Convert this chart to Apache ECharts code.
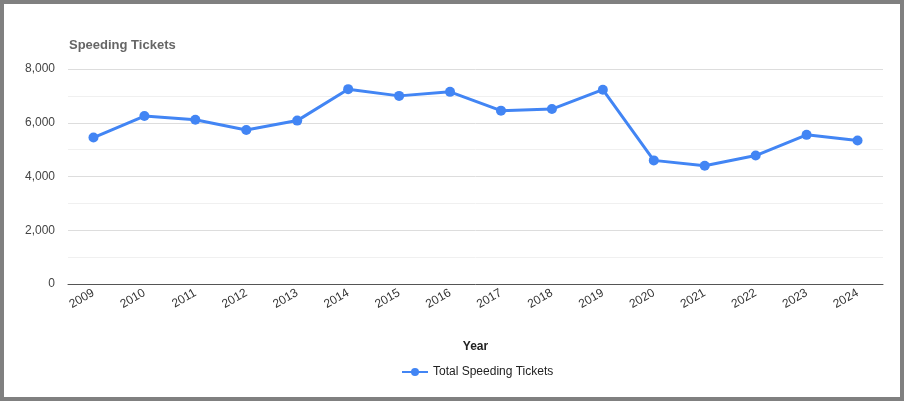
<!DOCTYPE html>
<html>
<head>
<meta charset="utf-8">
<script src="https://cdn.jsdelivr.net/npm/echarts@6/dist/echarts.min.js"></script>
<style>
  html, body { margin: 0; padding: 0; background: #fff; }
  #wrap { position: relative; width: 904px; height: 401px; }
  #chart { position: absolute; left: 0; top: 0; width: 904px; height: 401px; }
  #frame { position: absolute; left: 0; top: 0; width: 904px; height: 401px;
           box-sizing: border-box; border: 4px solid #808080; pointer-events: none; }
</style>
</head>
<body>
<div id="wrap">
  <div id="chart"></div>
  <div id="frame"></div>
</div>
<script>
// 年份与罚单数量
var years = ['2009', '2010', '2011', '2012', '2013', '2014', '2015', '2016',
             '2017', '2018', '2019', '2020', '2021', '2022', '2023', '2024'];
var tickets = [5450, 6250, 6110, 5730, 6080, 7250, 7000, 7150,
               6450, 6510, 7230, 4600, 4400, 4780, 5550, 5340];
var seriesName = 'Total Speeding Tickets';

var myChart = echarts.init(document.getElementById('chart'));

var option = {
  animation: false,
  textStyle: { fontFamily: 'Liberation Sans, Arial, sans-serif' },
  title: {
    text: 'Speeding Tickets',
    left: 64,
    top: 34,
    textStyle: { fontSize: 13, fontWeight: 'bold', color: '#666' }
  },
  legend: {
    data: [seriesName],
    bottom: 18,
    left: 396,
    itemWidth: 26,
    itemHeight: 10,
    itemGap: 5,
    textStyle: { fontSize: 12, color: '#222' }
  },
  grid: { left: 68, right: 21, top: 69, bottom: 117 },
  xAxis: {
    type: 'category',
    data: years,
    boundaryGap: true,
    name: 'Year',
    nameLocation: 'middle',
    nameGap: 57,
    nameTextStyle: { fontSize: 12, fontWeight: 'bold', color: '#222' },
    axisLine: { lineStyle: { color: '#555', width: 1 } },
    axisTick: { show: false },
    axisLabel: { rotate: 30, fontSize: 12, color: '#333', margin: 8, interval: 0 }
  },
  yAxis: {
    type: 'value',
    min: 0,
    max: 8000,
    interval: 2000,
    axisLine: { show: false },
    axisTick: { show: false },
    axisLabel: {
      fontSize: 12, color: '#444', margin: 13, padding: [4, 0, 0, 0],
      formatter: function (v) { return v.toLocaleString('en-US'); }
    },
    splitLine: { lineStyle: { color: '#ddd', width: 1 } },
    minorTick: { show: false, splitNumber: 2 },
    minorSplitLine: { show: true, lineStyle: { color: '#f0f0f0', width: 1 } }
  },
  series: [{
    name: seriesName,
    type: 'line',
    data: tickets,
    symbol: 'circle',
    symbolSize: 10,
    itemStyle: { color: '#4285f4' },
    lineStyle: { color: '#4285f4', width: 3 }
  }]
};

myChart.setOption(option);
</script>
</body>
</html>
